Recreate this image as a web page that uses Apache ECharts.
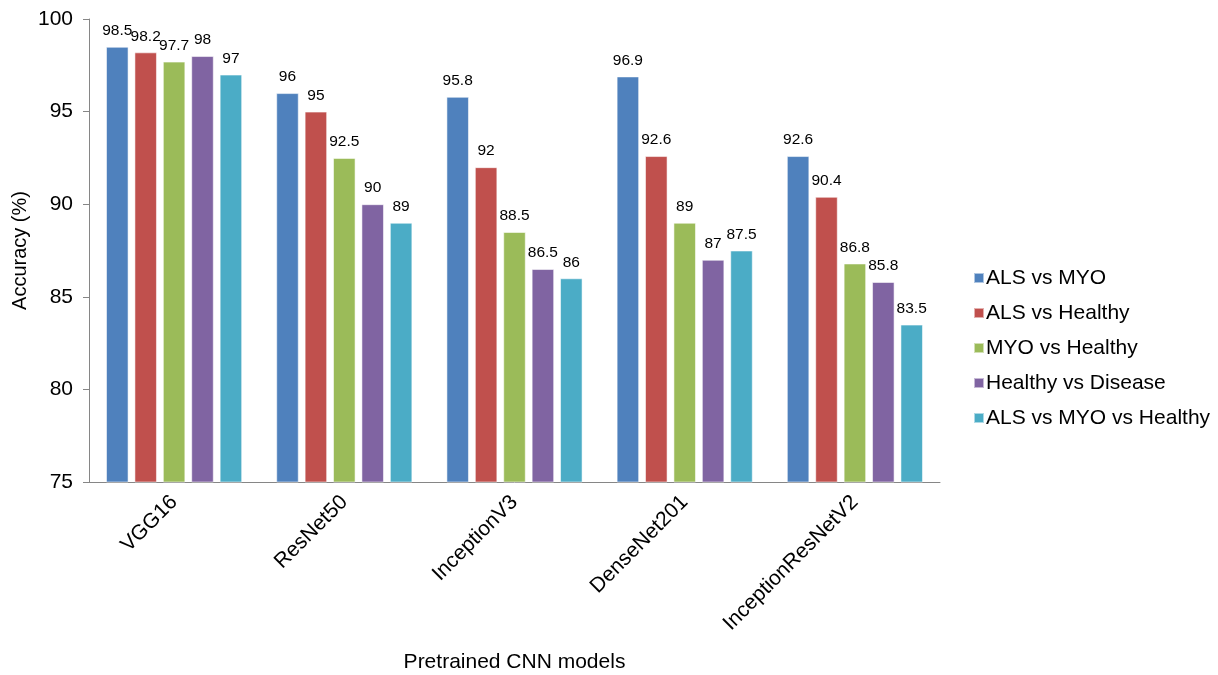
<!DOCTYPE html>
<html>
<head>
<meta charset="utf-8">
<script src="https://cdn.jsdelivr.net/npm/echarts@6/dist/echarts.min.js"></script>
<style>
  html, body { margin: 0; padding: 0; background: #fff; }
  #chart { width: 1218px; height: 675px; }
</style>
</head>
<body>
<div id="chart"></div>
<script>
// Models compared along the x axis
const models = ['VGG16', 'ResNet50', 'InceptionV3', 'DenseNet201', 'InceptionResNetV2'];

// Accuracy (%) for each classification task
const alsVsMyo         = [98.5, 96, 95.8, 96.9, 92.6];
const alsVsHealthy     = [98.2, 95, 92, 92.6, 90.4];
const myoVsHealthy     = [97.7, 92.5, 88.5, 89, 86.8];
const healthyVsDisease = [98, 90, 86.5, 87, 85.8];
const alsMyoHealthy    = [97, 89, 86, 87.5, 83.5];

const seriesNames = ['ALS vs MYO', 'ALS vs Healthy', 'MYO vs Healthy', 'Healthy vs Disease', 'ALS vs MYO vs Healthy'];
const seriesData = [alsVsMyo, alsVsHealthy, myoVsHealthy, healthyVsDisease, alsMyoHealthy];
const colors = ['#4F81BD', '#C0504D', '#9BBB59', '#8064A2', '#4BACC6'];

const font = '"Liberation Sans", Arial, sans-serif';

const chart = echarts.init(document.getElementById('chart'), null, { renderer: 'canvas' });

chart.setOption({
  animation: false,
  color: colors,
  textStyle: { fontFamily: font },
  grid: { left: 89, right: 278, top: 19, bottom: 193, containLabel: false, outerBoundsMode: 'none' },
  legend: {
    orient: 'vertical',
    left: 968,
    top: 262,
    itemWidth: 10,
    itemHeight: 10,
    itemGap: 13,
    icon: 'rect',
    textStyle: { fontFamily: font, fontSize: 21, color: '#000', lineHeight: 22, padding: [0, 0, 0, -3] },
    data: seriesNames
  },
  xAxis: {
    type: 'category',
    data: models,
    name: 'Pretrained CNN models',
    nameLocation: 'middle',
    nameGap: 170,
    nameMoveOverlap: false,
    nameTextStyle: { fontFamily: font, fontSize: 21, color: '#000' },
    axisLine: { lineStyle: { color: '#868686', width: 1 } },
    axisTick: { show: false },
    axisLabel: { rotate: 45, fontFamily: font, fontSize: 21, color: '#000', margin: 17 }
  },
  yAxis: {
    type: 'value',
    min: 75,
    max: 100,
    interval: 5,
    name: 'Accuracy (%)',
    nameLocation: 'middle',
    nameGap: 59,
    nameMoveOverlap: false,
    nameTextStyle: { fontFamily: font, fontSize: 20, color: '#000' },
    axisLine: { show: true, lineStyle: { color: '#868686', width: 1 } },
    axisTick: { show: true, length: 6, lineStyle: { color: '#868686' } },
    splitLine: { show: false },
    axisLabel: { fontFamily: font, fontSize: 21, color: '#000', margin: 16 }
  },
  series: seriesNames.map((name, i) => ({
    name: name,
    type: 'bar',
    data: seriesData[i],
    barGap: '26%',
    barCategoryGap: '20%',
    itemStyle: {
      color: colors[i],
      borderColor: 'rgba(255,255,255,0.55)',
      borderWidth: 1
    },
    label: {
      show: true,
      position: 'top',
      distance: 8,
      fontFamily: font,
      fontSize: 15.5,
      color: '#000'
    }
  }))
});
</script>
</body>
</html>
